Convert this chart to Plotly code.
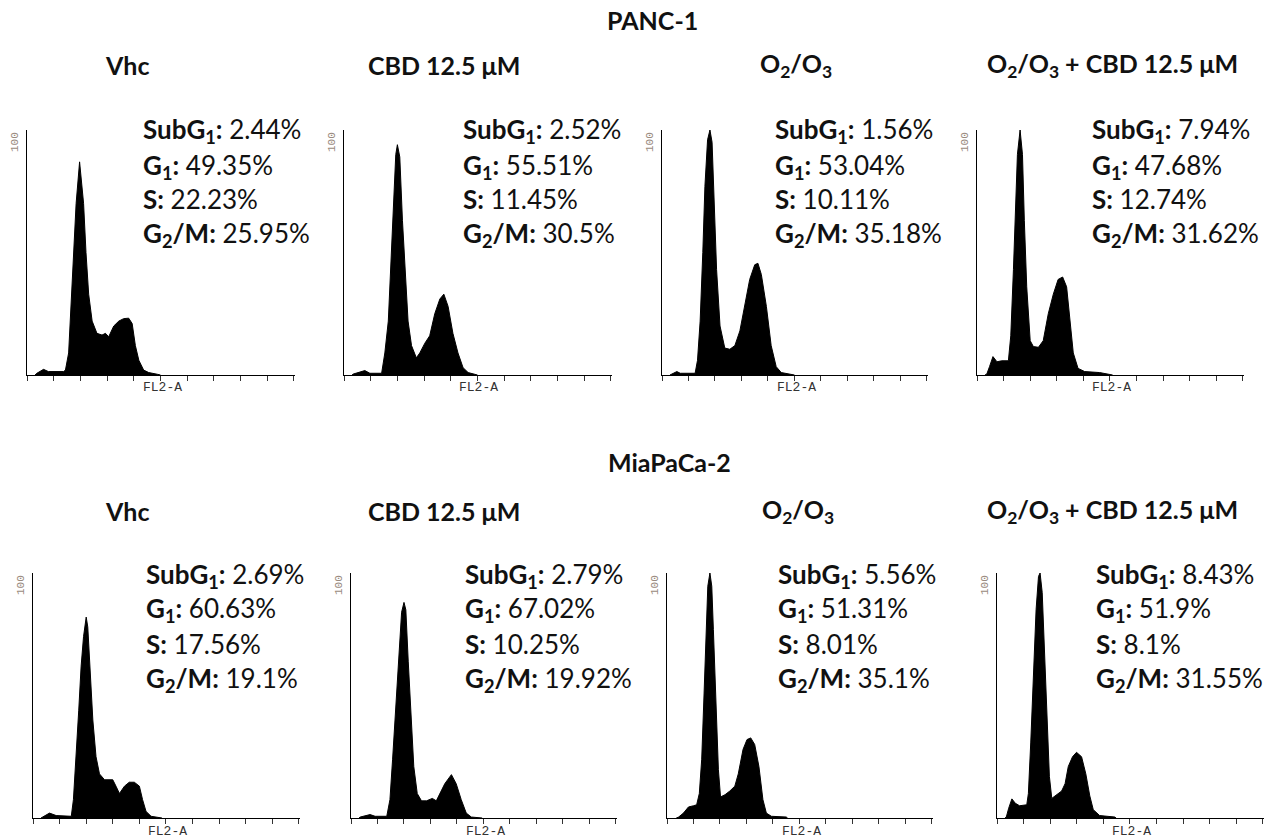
import plotly.graph_objects as go

# The page body has an 8px default margin; the figure is drawn 8px smaller and
# every reference pixel coordinate is shifted by that offset.
OFF = 8
W, H = 1278 - OFF, 840 - OFF

# ---------------- data ----------------
conditions = ["Vhc", "CBD 12.5 μM", "O<sub>2</sub>/O<sub>3</sub>", "O<sub>2</sub>/O<sub>3</sub> + CBD 12.5 μM"]
cell_lines = ["PANC-1", "MiaPaCa-2"]

panc1_vhc_x = [30, 37, 62, 80, 137, 144, 156, 162, 175, 184, 197, 212, 221, 231, 244, 262, 281, 294, 306, 325, 344, 362, 381, 394, 406, 419, 437, 456, 488, 500]
panc1_vhc_y = [0, 0.7, 2.3, 1.4, 1.4, 2, 9, 22, 50, 70, 87, 70, 50, 33, 22, 17, 16.3, 17, 15.6, 20, 22, 23, 23.2, 21, 12, 6, 2, 1, 0.3, 0]

panc1_cbd_x = [30, 35, 78, 97, 141, 153, 166, 174, 184, 194, 200, 209, 219, 228, 240, 253, 271, 284, 303, 321, 340, 359, 374, 390, 408, 427, 446, 465, 489, 500]
panc1_cbd_y = [0, 0.4, 1.8, 0.7, 0.7, 9, 22, 43, 70, 90, 94, 89, 63, 43, 22, 12, 7, 9, 13, 16, 25, 31, 33, 28, 17, 9, 3, 1, 0.3, 0]

panc1_oz_x = [30, 37, 56, 69, 125, 134, 144, 154, 162, 172, 181, 189, 196, 206, 219, 237, 256, 275, 294, 312, 331, 350, 362, 375, 394, 412, 431, 450, 494, 500]
panc1_oz_y = [0, 0.4, 1.4, 0.7, 0.7, 6, 22, 50, 77, 96, 100, 95, 70, 43, 20, 11, 10.5, 12, 18, 28, 39, 45, 45.6, 41, 28, 12, 3.4, 1, 0.3, 0]

panc1_ozcbd_x = [30, 37, 47, 60, 75, 93, 118, 127, 137, 145, 152, 162, 171, 178, 187, 200, 212, 231, 249, 268, 287, 305, 322, 337, 349, 362, 380, 405, 461, 505, 510]
panc1_ozcbd_y = [0, 0.4, 3.4, 7.5, 5.4, 5.8, 5.8, 16, 43, 70, 90, 100, 90, 63, 36, 14, 11.6, 11.3, 14, 25, 33, 39, 40, 36, 22, 9, 2.7, 1.4, 1, 0.3, 0]

mia_vhc_x = [30, 37, 62, 87, 144, 152, 162, 172, 181, 190, 200, 206, 215, 225, 237, 250, 269, 300, 312, 325, 344, 362, 381, 400, 412, 425, 444, 475, 485]
mia_vhc_y = [0, 0.4, 2, 1, 0.7, 7.5, 24, 44, 62, 74, 82, 78, 60, 40, 25, 18, 15.6, 15.6, 13, 10, 13, 14.6, 14.6, 13, 7.5, 2.7, 0.7, 0.3, 0]

mia_cbd_x = [30, 35, 72, 91, 135, 147, 157, 170, 182, 191, 200, 207, 216, 225, 237, 250, 266, 285, 307, 322, 335, 354, 379, 397, 416, 435, 454, 485, 495]
mia_cbd_y = [0, 0.4, 1.4, 0.7, 0.7, 7.5, 24, 48, 71, 84, 88, 85, 64, 44, 21, 10, 7, 7, 8, 7, 10, 14, 17.7, 14, 7.5, 2, 0.4, 0.1, 0]

mia_oz_x = [35, 44, 62, 81, 100, 112, 122, 131, 140, 147, 154, 162, 169, 175, 185, 194, 202, 219, 237, 256, 269, 287, 302, 316, 331, 347, 362, 375, 394, 450, 455]
mia_oz_y = [0, 0.4, 2, 4.5, 5, 5.4, 10, 24, 51, 78, 94.6, 100, 94.6, 77, 44, 19.7, 8.6, 9.5, 11, 13, 18, 28, 32, 32.7, 30, 21, 7.5, 2, 0.7, 0.4, 0]

mia_ozcbd_x = [30, 35, 44, 56, 69, 85, 112, 118, 127, 137, 147, 156, 162, 170, 177, 187, 197, 206, 224, 243, 256, 268, 284, 299, 318, 334, 349, 362, 386, 443, 448]
mia_ozcbd_y = [0, 0.4, 4, 7.8, 6, 5, 5.4, 10, 31, 58, 85, 98.6, 100, 92, 71, 44, 17, 8, 9.5, 11, 14, 21, 25, 26.8, 25, 18, 9, 3.4, 1, 0.4, 0]

panc1_subg1 = ["2.44", "2.52", "1.56", "7.94"]
panc1_g1 = ["49.35", "55.51", "53.04", "47.68"]
panc1_s = ["22.23", "11.45", "10.11", "12.74"]
panc1_g2m = ["25.95", "30.5", "35.18", "31.62"]

mia_subg1 = ["2.69", "2.79", "5.56", "8.43"]
mia_g1 = ["60.63", "67.02", "51.31", "51.9"]
mia_s = ["17.56", "10.25", "8.01", "8.1"]
mia_g2m = ["19.1", "19.92", "35.1", "31.55"]

x_ticks = [0, 100, 200, 300, 400, 500, 600, 700, 800, 900, 1000]
y_max_label = "100"
x_axis_label = "FL2-A"

# ---------------- layout geometry (reference pixels) ----------------
histos = [
    (panc1_vhc_x, panc1_vhc_y), (panc1_cbd_x, panc1_cbd_y), (panc1_oz_x, panc1_oz_y), (panc1_ozcbd_x, panc1_ozcbd_y),
    (mia_vhc_x, mia_vhc_y), (mia_cbd_x, mia_cbd_y), (mia_oz_x, mia_oz_y), (mia_ozcbd_x, mia_ozcbd_y),
]
stats = [
    (panc1_subg1, panc1_g1, panc1_s, panc1_g2m),
    (mia_subg1, mia_g1, mia_s, mia_g2m),
]
panel_lr = [(27, 295), (344, 612), (662, 928), (977, 1244),
            (33, 300), (351, 617), (667, 933), (997, 1264)]
row_tb = [(130, 375), (573, 818)]
text_x = [[141, 461, 773, 1090], [144, 463, 776, 1094]]
text_y = [[131, 166, 199, 235], [575, 609, 644, 679]]
cond_x = [127, 444, 796, 1112]
cond_x2 = [127, 444, 798, 1112]
cond_y = [65, 511]
line_title_pos = [(652, 20), (669, 462)]

FONT = "Lato"


def px(x):
    return (x - OFF) / W


def py(y):
    return 1 - (y - OFF) / H


fig = go.Figure()
layout = dict(
    width=W, height=H, margin=dict(l=0, r=0, t=0, b=0),
    paper_bgcolor="white", plot_bgcolor="white", showlegend=False,
    font=dict(family=FONT, color="black"),
)
annotations = []

for i, (hx, hy) in enumerate(histos):
    row = i // 4
    n = "" if i == 0 else str(i + 1)
    fig.add_trace(go.Scatter(
        x=hx, y=hy, mode="lines", fill="tozeroy",
        line=dict(color="black", width=1), fillcolor="black",
        xaxis="x" + n, yaxis="y" + n, hoverinfo="skip",
    ))
    l, r = panel_lr[i]
    t, b = row_tb[row]
    layout["xaxis" + n] = dict(
        domain=[px(l), px(r)], range=[0, 1004], anchor="y" + n,
        showgrid=False, zeroline=False, showline=True, linecolor="black", linewidth=1,
        ticks="outside", ticklen=5, tickwidth=1, tickcolor="#333333",
        tickvals=x_ticks, showticklabels=False, fixedrange=True,
    )
    layout["yaxis" + n] = dict(
        domain=[py(b), py(t)], range=[0, 100], anchor="x" + n,
        showgrid=False, zeroline=False, showline=True, linecolor="black", linewidth=1,
        ticks="", showticklabels=False, fixedrange=True,
    )
    # "100" label
    annotations.append(dict(
        text=y_max_label, xref="paper", yref="paper", x=px(l - 12), y=py(t + 12),
        showarrow=False, textangle=-90, xanchor="center", yanchor="middle",
        font=dict(family="Liberation Mono", size=11, color="#9a8a80"),
    ))
    # FL2-A label
    annotations.append(dict(
        text=x_axis_label, xref="paper", yref="paper", x=px((l + r) / 2 + 1), y=py(b + 13),
        showarrow=False, xanchor="center", yanchor="middle",
        font=dict(family="Liberation Mono", size=13, color="#333333"),
    ))
    # stats text
    col = i % 4
    sg, g1, s, g2 = stats[row]
    lines = [
        f"<b>SubG<sub>1</sub>:</b> {sg[col]}%",
        f"<b>G<sub>1</sub>:</b> {g1[col]}%",
        f"<b>S:</b> {s[col]}%",
        f"<b>G<sub>2</sub>/M:</b> {g2[col]}%",
    ]
    for k, txt in enumerate(lines):
        annotations.append(dict(
            text=txt, xref="paper", yref="paper", x=px(text_x[row][col]), y=py(text_y[row][k]),
            showarrow=False, xanchor="left", yanchor="middle",
            font=dict(family=FONT, size=26, color="#111111"),
        ))

for row in range(2):
    tx, ty = line_title_pos[row]
    annotations.append(dict(
        text=f"<b>{cell_lines[row]}</b>", xref="paper", yref="paper", x=px(tx), y=py(ty),
        showarrow=False, xanchor="center", yanchor="middle",
        font=dict(family=FONT, size=25, color="#111111"),
    ))
    cx = cond_x if row == 0 else cond_x2
    for col in range(4):
        annotations.append(dict(
            text=f"<b>{conditions[col]}</b>", xref="paper", yref="paper",
            x=px(cx[col]), y=py(cond_y[row]),
            showarrow=False, xanchor="center", yanchor="middle",
            font=dict(family=FONT, size=25, color="#111111"),
        ))

layout["annotations"] = annotations
fig.update_layout(**layout)
fig.write_html("out.html")
